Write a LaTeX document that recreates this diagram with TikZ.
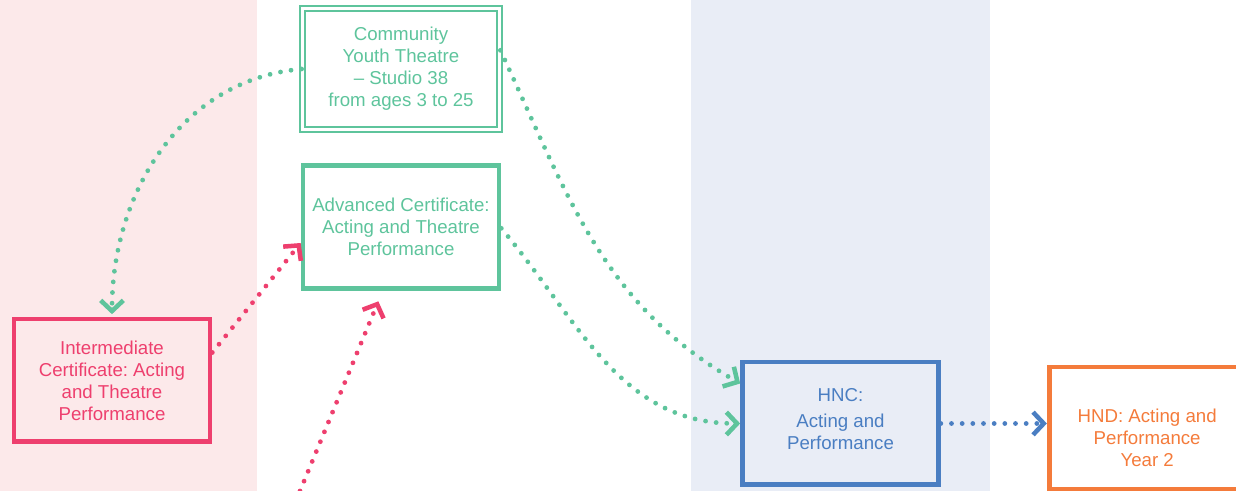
\documentclass[tikz,border=0pt]{standalone}
\usepackage{fontspec}
\setmainfont{Liberation Sans}
\usepackage{tikz}
\usetikzlibrary{positioning, calc, arrows.meta}
\definecolor{cgreen}{HTML}{5EC49C}
\definecolor{cpink}{HTML}{EE3F6E}
\definecolor{cblue}{HTML}{4A7EC2}
\definecolor{corange}{HTML}{F47B3B}
\definecolor{bgpink}{HTML}{FCE9EA}
\definecolor{bgblue}{HTML}{E9EDF6}
\frenchspacing
\tikzstyle{course} = [rectangle, minimum width=147pt, minimum height=92pt, text centered, align=center, line width=3.5pt, font=\fontsize{14}{16.5}\selectfont]
\tikzstyle{youth} = [course, draw=cgreen, text=cgreen, double=white, double distance=2.6pt, line width=1.1pt]
\tikzstyle{dots} = [line width=3.6pt, line cap=round, dash pattern=on 0pt off 8pt, -{Straight Barb[length=8pt, width=17pt, line width=3.4pt]}]

\begin{document}
\begin{tikzpicture}[x=0.75pt, y=0.75pt]
\useasboundingbox (0,0) rectangle (1236,-491);
% colour bands
\fill [bgpink] (0,0) rectangle (257,-491);
\fill [bgblue] (691,0) rectangle (990,-491);
% courses
\node (cyt) [youth, minimum width=148pt, minimum height=91pt] at (401,-69) {Community\\Youth Theatre\\– Studio 38\\from ages 3 to 25};
\node (adv) [course, draw=cgreen, text=cgreen] at (401,-227) {Advanced Certificate:\\Acting and Theatre\\Performance};
\node (inter) [course, draw=cpink, text=cpink] at (112,-380.5) {Intermediate\\Certificate: Acting\\and Theatre\\Performance};
\node (hnc) [course, draw=cblue, text=cblue] at (840.5,-423.5) {HNC:\\[3pt]Acting and\\Performance\rule[-7pt]{0pt}{0pt}};
\node (hnd) [course, draw=corange, text=corange, right=79.5pt of hnc, yshift=-3.75pt] {\rule{0pt}{24pt}HND: Acting and\\Performance\\Year 2};
\coordinate (low) at (300,-491);
% routes
\draw [dots, cgreen] (cyt.west) to[out=185, in=90] ([yshift=2pt]inter.north);
\draw [dots, cgreen] ([yshift=14pt]cyt.east) to[out=-65, in=150] ([yshift=30pt]hnc.west);
\draw [dots, cgreen] ([yshift=-1pt]adv.east) to[out=-50, in=180] (hnc.west);
\draw [dots, cpink] ([yshift=21pt]inter.east) -- ([yshift=-12pt]adv.west);
\draw [dots, cpink] (low) -- ([xshift=-17pt, yshift=-8pt]adv.south);
\draw [dots, cblue] (hnc.east) -- (hnc.east -| hnd.west);
\end{tikzpicture}
\end{document}
